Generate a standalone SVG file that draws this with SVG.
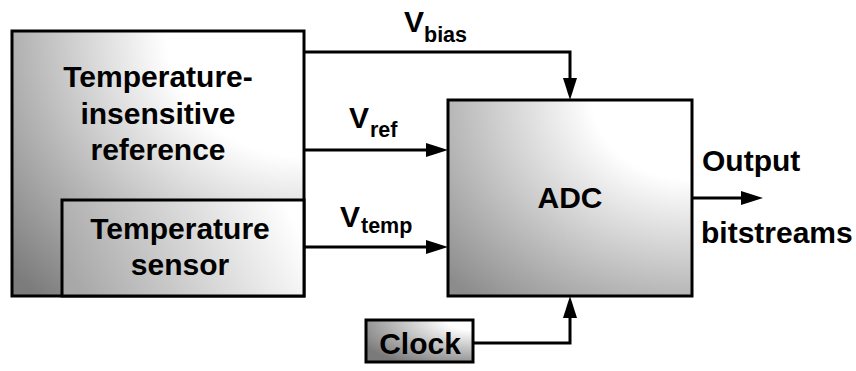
<svg xmlns="http://www.w3.org/2000/svg" width="856" height="371" viewBox="0 0 856 371">
<style>
.box{stroke:#000;stroke-width:3;stroke-linejoin:miter}
.wire{fill:none;stroke:#000;stroke-width:3}
.lbl{font-family:"Liberation Sans",Arial,sans-serif;font-weight:bold;font-size:30px;fill:#000}
.v{font-family:"Liberation Sans",Arial,sans-serif;font-weight:bold;font-size:30px;fill:#000}
.sub{font-family:"Liberation Sans",Arial,sans-serif;font-weight:bold;font-size:21.5px;fill:#000}
</style>
<defs>
<radialGradient id="gBig" cx="1" cy="0" r="1.35" fx="1" fy="0">
<stop offset="0.35" stop-color="#ffffff"/>
<stop offset="1" stop-color="#7c7c7c"/>
</radialGradient>
<radialGradient id="gAdc" cx="1" cy="0" r="1.35" fx="1" fy="0">
<stop offset="0.3" stop-color="#ffffff"/>
<stop offset="1" stop-color="#8c8c8c"/>
</radialGradient>
<linearGradient id="gSen" x1="0" y1="0.6" x2="1" y2="0.4">
<stop offset="0" stop-color="#a8a8a8"/>
<stop offset="1" stop-color="#ffffff"/>
</linearGradient>
<radialGradient id="gClk" cx="1" cy="0" r="1.2" fx="1" fy="0">
<stop offset="0.2" stop-color="#ffffff"/>
<stop offset="1" stop-color="#7a7a7a"/>
</radialGradient>
<marker id="arr" markerUnits="userSpaceOnUse" markerWidth="22" markerHeight="14" refX="0" refY="7" orient="auto" overflow="visible">
<path d="M0,0 L22,7 L0,14 Z" fill="#000"/>
</marker>
</defs>

<g id="reference">
<rect class="box" x="12" y="31" width="292" height="265" fill="url(#gBig)"/>
<text class="lbl" x="158" y="87" text-anchor="middle">Temperature-</text>
<text class="lbl" x="158" y="124" text-anchor="middle">insensitive</text>
<text class="lbl" x="158" y="160" text-anchor="middle">reference</text>
</g>

<g id="sensor">
<rect class="box" x="62" y="200" width="242" height="96" fill="url(#gSen)"/>
<text class="lbl" x="180" y="239" text-anchor="middle">Temperature</text>
<text class="lbl" x="180" y="275" text-anchor="middle">sensor</text>
</g>

<g id="adc">
<rect class="box" x="448" y="100" width="244" height="196" fill="url(#gAdc)"/>
<text class="lbl" x="570" y="208" text-anchor="middle">ADC</text>
</g>

<g id="clock">
<rect class="box" x="366" y="320" width="107" height="42" fill="url(#gClk)"/>
<text class="lbl" x="420" y="354" text-anchor="middle">Clock</text>
</g>

<g id="connectors">
<path class="wire" d="M304,52 H570 V78" marker-end="url(#arr)"/>
<path class="wire" d="M304,150 H426" marker-end="url(#arr)"/>
<path class="wire" d="M304,247 H426" marker-end="url(#arr)"/>
<path class="wire" d="M473,343 H570 V318" marker-end="url(#arr)"/>
<path class="wire" d="M692,198 H741" marker-end="url(#arr)"/>
</g>

<g id="labels">
<text class="v" x="404" y="32">V</text>
<text class="sub" x="424" y="42">bias</text>
<text class="v" x="349" y="128">V</text>
<text class="sub" x="370" y="137">ref</text>
<text class="v" x="340" y="227">V</text>
<text class="sub" x="361" y="233">temp</text>
<text class="lbl" x="702" y="171">Output</text>
<text class="lbl" x="701" y="243">bitstreams</text>
</g>
</svg>
